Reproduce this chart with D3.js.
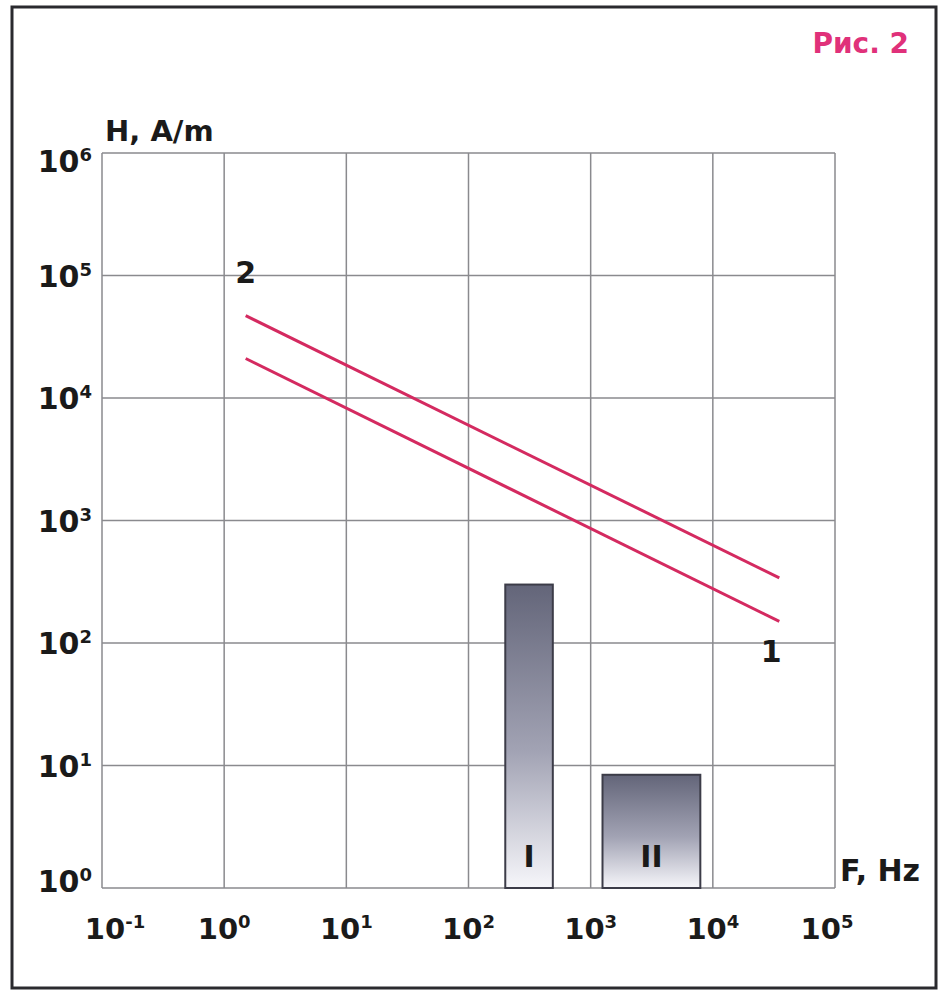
<!DOCTYPE html>
<html>
<head>
<meta charset="utf-8">
<script src="https://cdn.jsdelivr.net/npm/d3@7"></script>
<style>
  html, body { margin: 0; padding: 0; background: #fff; }
  svg { display: block; }
  text { font-family: "DejaVu Sans", "Liberation Sans", Arial, sans-serif; font-weight: bold; }
</style>
</head>
<body>
<svg id="chart" width="942" height="994"></svg>
<script>
// Frequency (Hz) and field strength (A/m) exponents for the log axes
const xExponents = [-1, 0, 1, 2, 3, 4, 5];
const yExponents = [0, 1, 2, 3, 4, 5, 6];

// Field-strength limit lines: frequency (Hz) vs H (A/m)
const lineFreq = [1.5, 35000];
const line1H = [21000, 150];
const line2H = [47000, 340];

// Measured ranges shown as bars
const barNames = ["I", "II"];
const barFreqFrom = [200, 1250];
const barFreqTo = [490, 7900];
const barH = [300, 8.4];

const svg = d3.select("#chart");

const x = d3.scaleLog().domain([0.1, 1e5]).range([102, 835]);
const y = d3.scaleLog().domain([1, 1e6]).range([888, 153]);

// Outer frame
svg.append("rect")
  .attr("x", 12).attr("y", 7).attr("width", 924).attr("height", 981)
  .attr("fill", "#fff").attr("stroke", "#2a2a2e").attr("stroke-width", 3);

// Figure caption
svg.append("text")
  .attr("x", 909).attr("y", 53).attr("text-anchor", "end")
  .attr("font-size", 28).attr("fill", "#e0317a")
  .attr("font-family", "'DejaVu Sans Condensed', 'DejaVu Sans', sans-serif")
  .text("Рис. 2");

// Grid
const grid = svg.append("g").attr("stroke", "#8a8a8e").attr("stroke-width", 1.5);
grid.selectAll("line.v").data(xExponents).join("line")
  .attr("class", "v")
  .attr("x1", d => x(Math.pow(10, d))).attr("x2", d => x(Math.pow(10, d)))
  .attr("y1", y(1e6)).attr("y2", y(1));
grid.selectAll("line.h").data(yExponents).join("line")
  .attr("class", "h")
  .attr("y1", d => y(Math.pow(10, d))).attr("y2", d => y(Math.pow(10, d)))
  .attr("x1", x(0.1)).attr("x2", x(1e5));

// Bar gradient
const defs = svg.append("defs");
const grad = defs.append("linearGradient")
  .attr("id", "barFill").attr("x1", 0).attr("y1", 0).attr("x2", 0).attr("y2", 1);
grad.append("stop").attr("offset", "0%").attr("stop-color", "#636579");
grad.append("stop").attr("offset", "55%").attr("stop-color", "#a2a3b4");
grad.append("stop").attr("offset", "100%").attr("stop-color", "#f6f6fa");

const bars = svg.append("g");
bars.selectAll("rect").data(barNames).join("rect")
  .attr("x", (d, i) => x(barFreqFrom[i]))
  .attr("width", (d, i) => x(barFreqTo[i]) - x(barFreqFrom[i]))
  .attr("y", (d, i) => y(barH[i]))
  .attr("height", (d, i) => y(1) - y(barH[i]))
  .attr("fill", "url(#barFill)")
  .attr("stroke", "#3c3c48").attr("stroke-width", 2);
bars.selectAll("text").data(barNames).join("text")
  .attr("x", (d, i) => x(Math.sqrt(barFreqFrom[i] * barFreqTo[i])))
  .attr("y", 867).attr("text-anchor", "middle")
  .attr("font-size", 30).attr("fill", "#1a1a1a")
  .attr("font-family", "'Liberation Sans', sans-serif")
  .text(d => d);

// Limit lines
const lineGen = d3.line().x(d => x(d[0])).y(d => y(d[1]));
[line1H, line2H].forEach(hs => {
  svg.append("path")
    .datum(lineFreq.map((f, i) => [f, hs[i]]))
    .attr("d", lineGen)
    .attr("fill", "none").attr("stroke", "#d42a60").attr("stroke-width", 3);
});

// Line labels
svg.append("text").attr("x", x(lineFreq[0])).attr("y", 283)
  .attr("text-anchor", "middle").attr("font-size", 30).attr("fill", "#1a1a1a").text("2");
svg.append("text").attr("x", x(lineFreq[1]) - 8).attr("y", 662)
  .attr("text-anchor", "middle").attr("font-size", 30).attr("fill", "#1a1a1a").text("1");

// Power-of-ten labels
function powerLabel(g, exp) {
  g.append("tspan").text("10");
  g.append("tspan").attr("font-size", 18).attr("dy", -11).text(exp < 0 ? "-" + Math.abs(exp) : exp);
}

// X axis labels
svg.append("g").selectAll("text").data(xExponents).join("text")
  .attr("x", (d, i) => x(Math.pow(10, d)) + (i === 0 ? 13 : i === xExponents.length - 1 ? -8 : 0))
  .attr("y", 939).attr("text-anchor", "middle")
  .attr("font-size", 29).attr("fill", "#1a1a1a")
  .each(function(d) { powerLabel(d3.select(this), d); });

// Y axis labels
svg.append("g").selectAll("text").data(yExponents).join("text")
  .attr("x", 92)
  .attr("y", (d, i) => y(Math.pow(10, d)) + 11 + (i === 0 ? -7 : i === yExponents.length - 1 ? 8 : 0))
  .attr("text-anchor", "end")
  .attr("font-size", 30).attr("fill", "#1a1a1a")
  .each(function(d) { powerLabel(d3.select(this), d); });

// Axis titles
svg.append("text").attr("x", 105).attr("y", 141)
  .attr("font-size", 29).attr("fill", "#1a1a1a").text("H, A/m");
svg.append("text").attr("x", 840).attr("y", 881)
  .attr("font-size", 30).attr("fill", "#1a1a1a").text("F, Hz");
</script>
</body>
</html>
